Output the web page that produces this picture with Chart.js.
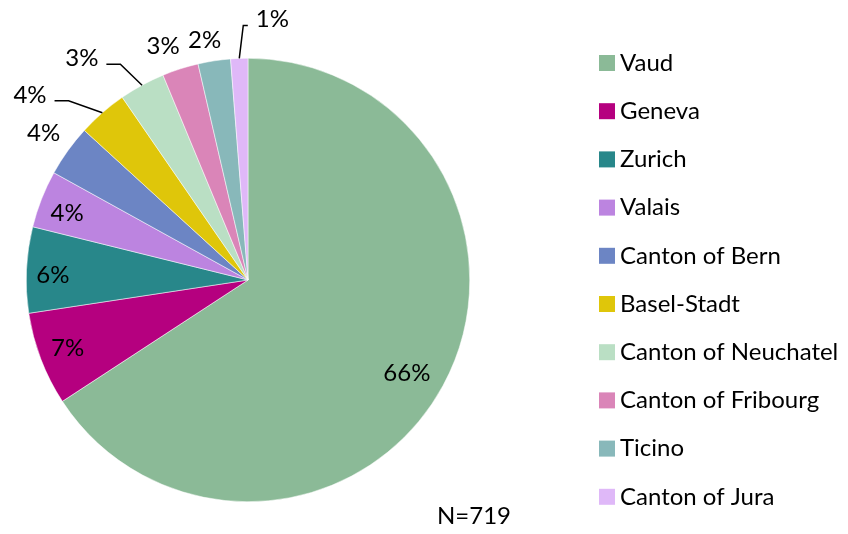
<!DOCTYPE html>
<html lang="en">
<head>
    <meta charset="UTF-8">
    <title>Respondents by canton</title>
    <script src="https://cdn.jsdelivr.net/npm/chart.js"></script>
    <style>
        body { margin: 0; background: #fff; }
        #wrap { width: 848px; height: 534px; }
    </style>
</head>
<body>
    <div id="wrap">
        <canvas id="cantonPie" width="848" height="534"></canvas>
    </div>
<script>
// data (counts out of N=719)
const cantons = ['Vaud', 'Geneva', 'Zurich', 'Valais', 'Canton of Bern', 'Basel-Stadt',
    'Canton of Neuchatel', 'Canton of Fribourg', 'Ticino', 'Canton of Jura'];
const respondents = [473, 49, 45, 30, 27, 26, 24, 19, 17, 9];
const totalN = 719;
const sliceColors = ['#8bba97', '#b5007f', '#28878a', '#bc84e0', '#6c85c4', '#dfc60a',
    '#badfc4', '#da85b8', '#88b8ba', '#dfb8f8'];

// where each % label sits: fraction of radius, angle nudge (deg), leader line?
const labelRadius = [0.83, 0.87, 0.88, 0.87, 1.135, 1.29, 1.25, 1.12, 1.10, 1.18];
const labelShift = [1.9, 0.2, -1.1, -1.1, 0, -8.6, -8.3, -2.2, -1.5, 7.6];
const hasLeader = [false, false, false, false, false, true, true, false, false, true];

const FONT = '24px Lato, "Open Sans", sans-serif';

const pctLabels = {
    id: 'pctLabels',
    afterDatasetsDraw(chart) {
        const ctx = chart.ctx;
        const meta = chart.getDatasetMeta(0);
        const sum = respondents.reduce((a, b) => a + b, 0);
        ctx.save();
        ctx.font = FONT;
        ctx.fillStyle = '#000';
        ctx.strokeStyle = '#000';
        ctx.lineWidth = 1.5;
        ctx.textAlign = 'center';
        ctx.textBaseline = 'middle';
        meta.data.forEach((arc, i) => {
            const p = arc.getProps(['x', 'y', 'startAngle', 'endAngle', 'outerRadius'], true);
            const mid = (p.startAngle + p.endAngle) / 2;
            const a = mid + labelShift[i] * Math.PI / 180;
            const tx = p.x + Math.cos(a) * p.outerRadius * labelRadius[i];
            const ty = p.y + Math.sin(a) * p.outerRadius * labelRadius[i];
            const txt = Math.round(respondents[i] / sum * 100) + '%';
            ctx.fillText(txt, tx, ty);
            if (hasLeader[i]) {
                const ex = p.x + Math.cos(mid) * p.outerRadius;
                const ey = p.y + Math.sin(mid) * p.outerRadius;
                const dir = ex > tx ? 1 : -1;
                const half = ctx.measureText(txt).width / 2;
                const sx = tx + dir * (half + 8);
                const ly = ty + 6;
                const elb = sx + dir * Math.min(14, Math.abs(ex - sx) - 4);
                ctx.beginPath();
                ctx.moveTo(sx, ly);
                ctx.lineTo(elb, ly);
                ctx.lineTo(ex, ey);
                ctx.stroke();
            }
        });
        // sample size note
        ctx.fillText('N=' + totalN, 474, 516);
        ctx.restore();
    }
};

const sideLegend = {
    id: 'sideLegend',
    afterDraw(chart) {
        const ctx = chart.ctx;
        ctx.save();
        ctx.font = FONT;
        ctx.textAlign = 'left';
        ctx.textBaseline = 'middle';
        chart.data.labels.forEach((name, i) => {
            const y = 63 + i * 48.2;
            ctx.fillStyle = sliceColors[i];
            ctx.fillRect(599, y - 8, 16, 16);
            ctx.fillStyle = '#000';
            ctx.fillText(name, 620, y);
        });
        ctx.restore();
    }
};

new Chart(document.getElementById('cantonPie'), {
    type: 'pie',
    data: {
        labels: cantons,
        datasets: [{
            data: respondents,
            backgroundColor: sliceColors,
            borderColor: '#ffffff',
            borderWidth: 0.5
        }]
    },
    options: {
        responsive: false,
        animation: false,
        layout: { padding: { left: 26, right: 378, top: 58, bottom: 32 } },
        plugins: {
            legend: { display: false },
            tooltip: { enabled: false }
        }
    },
    plugins: [pctLabels, sideLegend]
});
</script>
</body>
</html>
